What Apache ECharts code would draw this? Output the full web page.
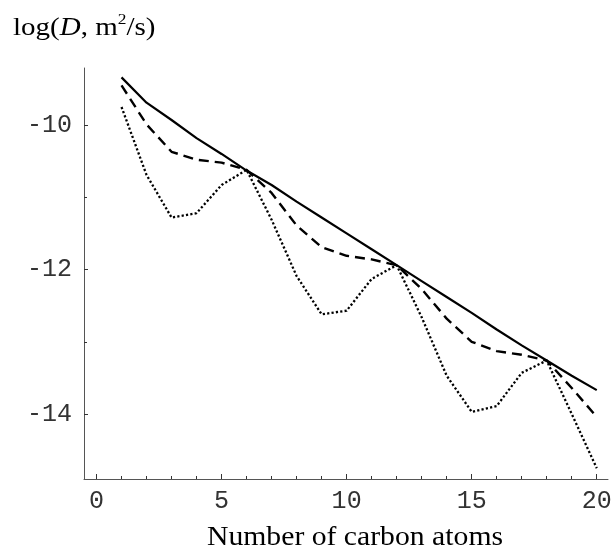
<!DOCTYPE html>
<html>
<head>
<meta charset="utf-8">
<script src="https://cdn.jsdelivr.net/npm/echarts@6/dist/echarts.min.js"></script>
<style>
  html, body { margin: 0; padding: 0; background: #fff; }
  #main { width: 615px; height: 556px; }
</style>
</head>
<body>
<div id="main"></div>
<script>
// number of carbon atoms
var carbons = [1, 2, 3, 4, 5, 6, 7, 8, 9, 10, 11, 12, 13, 14, 15, 16, 17, 18, 19, 20];
// log(D) curves
var solidD = [-9.34, -9.69, -9.93, -10.18, -10.40, -10.63, -10.83, -11.06, -11.28, -11.50,
  -11.72, -11.94, -12.16, -12.38, -12.60, -12.83, -13.05, -13.26, -13.47, -13.67];
var dashedD = [-9.45, -9.99, -10.37, -10.48, -10.52, -10.62, -10.94, -11.39, -11.69, -11.81,
  -11.86, -11.94, -12.27, -12.68, -13.00, -13.13, -13.18, -13.26, -13.64, -14.04];
var dottedD = [-9.75, -10.69, -11.28, -11.22, -10.83, -10.62, -11.31, -12.09, -12.62, -12.57,
  -12.13, -11.94, -12.66, -13.47, -13.97, -13.89, -13.43, -13.26, -14.00, -14.75];
// ticks
var xMajor = [0, 5, 10, 15, 20];
var xMinor = [1, 2, 3, 4, 6, 7, 8, 9, 11, 12, 13, 14, 16, 17, 18, 19];
var yMajor = [-10, -12, -14];
var yMinor = [-11, -13];

var pairs = function (ys) {
  return carbons.map(function (c, i) { return [c, ys[i]]; });
};

var chart = echarts.init(document.getElementById('main'));
var monoFont = { fontFamily: 'Liberation Mono', fontSize: 25, color: '#333' };
var axisLine = { show: true, onZero: false, lineStyle: { color: '#555', width: 1 } };
var hiddenLine = { show: false, onZero: false };

var option = {
  animation: false,
  backgroundColor: '#fff',
  grid: { left: 84, right: 7, top: 68, bottom: 77, containLabel: false, outerBoundsMode: 'none' },
  xAxis: [
    {
      type: 'value', min: -0.5, max: 20.45,
      axisLine: axisLine,
      axisTick: { inside: true, length: 5, customValues: xMajor, lineStyle: { color: '#333' } },
      axisLabel: Object.assign({ customValues: xMajor, margin: 10 }, monoFont),
      splitLine: { show: false }
    },
    {
      type: 'value', min: -0.5, max: 20.45, position: 'bottom',
      axisLine: hiddenLine,
      axisTick: { inside: true, length: 3, customValues: xMinor, lineStyle: { color: '#333' } },
      axisLabel: { show: false },
      splitLine: { show: false }
    }
  ],
  yAxis: [
    {
      type: 'value', min: -14.9, max: -9.21,
      axisLine: axisLine,
      axisTick: { inside: true, length: 4, customValues: yMajor, lineStyle: { color: '#333' } },
      axisLabel: Object.assign({ customValues: yMajor, margin: 12 }, monoFont),
      splitLine: { show: false }
    },
    {
      type: 'value', min: -14.9, max: -9.21, position: 'left',
      axisLine: hiddenLine,
      axisTick: { inside: true, length: 3, customValues: yMinor, lineStyle: { color: '#333' } },
      axisLabel: { show: false },
      splitLine: { show: false }
    }
  ],
  series: [
    {
      type: 'line', data: pairs(solidD), showSymbol: false,
      lineStyle: { color: '#000', width: 2.2 }
    },
    {
      type: 'line', data: pairs(dashedD), showSymbol: false,
      lineStyle: { color: '#000', width: 2.4, type: [10, 6], cap: 'butt' }
    },
    {
      type: 'line', data: pairs(dottedD), showSymbol: false,
      lineStyle: { color: '#000', width: 2.3, type: [2.2, 2.2], cap: 'butt' }
    }
  ],
  graphic: [
    {
      type: 'text', x: 13, y: 13, scaleX: 1.16,
      style: {
        text: '{a|log(}{i|D}{a|, m}{s|2}{a|/s)}',
        rich: {
          a: { fontFamily: 'Liberation Serif', fontSize: 25, fill: '#000' },
          i: { fontFamily: 'Liberation Serif', fontSize: 25, fontStyle: 'italic', fill: '#000' },
          s: { fontFamily: 'Liberation Serif', fontSize: 15, fill: '#000', verticalAlign: 'top', lineHeight: 30 }
        }
      }
    },
    {
      type: 'text', x: 355, y: 524, scaleX: 1.1,
      style: {
        text: 'Number of carbon atoms',
        fontFamily: 'Liberation Serif', fontSize: 27, fill: '#000',
        align: 'center', verticalAlign: 'top'
      }
    }
  ]
};
chart.setOption(option);
</script>
</body>
</html>
